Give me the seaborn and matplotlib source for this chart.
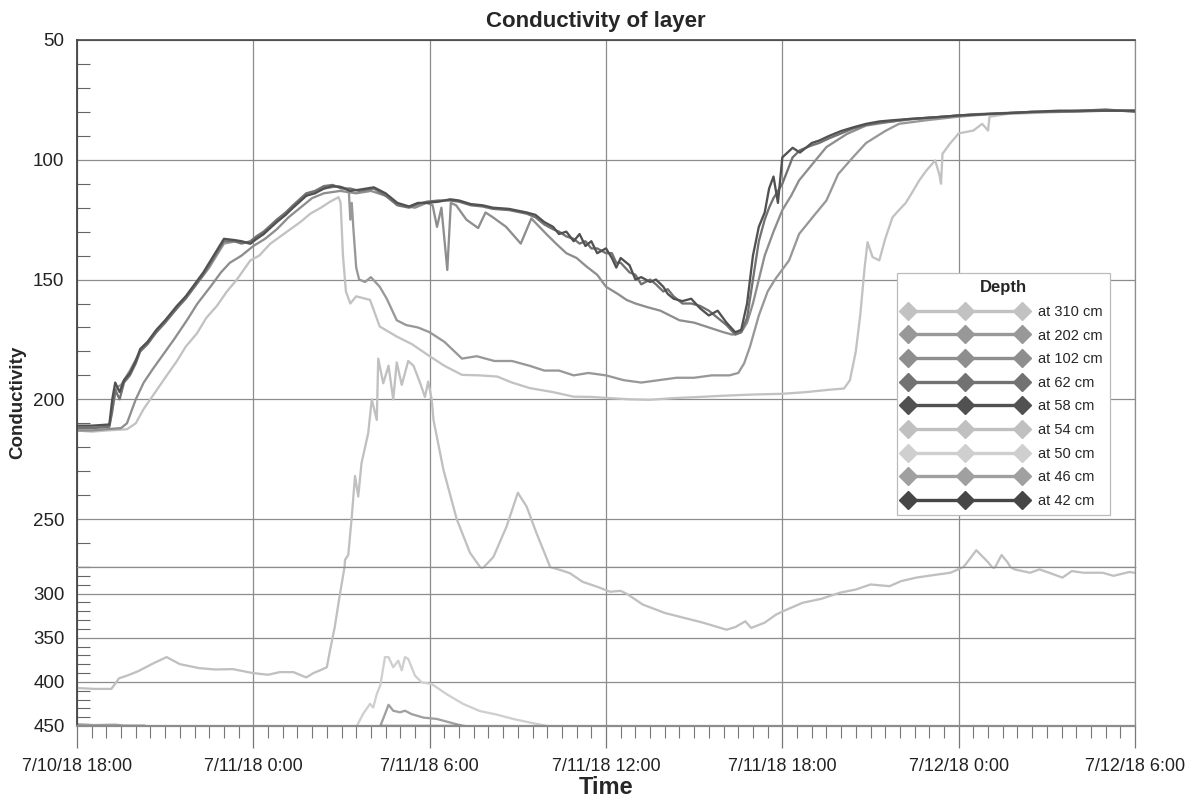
import numpy as np
import pandas as pd
import matplotlib
matplotlib.use("Agg")
import matplotlib.pyplot as plt
import matplotlib.dates as mdates
from matplotlib.ticker import MultipleLocator, FuncFormatter
from matplotlib.lines import Line2D
import seaborn as sns

# hours after 7/10/18 18:00 and conductivity
h58 = [0, 0.5, 1.1, 1.2, 1.3, 1.45, 1.6, 1.8, 2.0, 2.15,
       2.4, 2.7, 3.0, 3.4, 3.7, 4.0, 4.3, 4.55, 4.75, 5.0,
       5.35, 5.6, 5.9, 6.1, 6.35, 6.8, 7.1, 7.35, 7.8, 8.1,
       8.4, 8.7, 9.0, 9.3, 9.6, 10.1, 10.5, 10.9, 11.3, 11.6,
       11.9, 12.3, 12.7, 13.0, 13.4, 13.8, 14.15, 14.7, 15.3, 15.6,
       15.9, 16.2, 16.4, 16.65, 16.9, 17.1, 17.3, 17.5, 17.7, 18.0,
       18.2, 18.35, 18.5, 18.8, 19.0, 19.2, 19.5, 19.7, 19.95, 20.1,
       20.3, 20.6, 20.9, 21.2, 21.5, 21.8, 22.1, 22.4, 22.6, 22.8,
       23.0, 23.2, 23.4, 23.55, 23.7, 23.85, 24.0, 24.35, 24.6, 25.0,
       25.25, 25.6, 26.0, 26.4, 26.85, 27.3, 27.75, 28.3, 28.9, 29.5,
       30.0, 30.8, 31.7, 32.5, 33.4, 34.2, 35.0, 36.0]
v58 = [211, 211, 210.5, 200, 193, 197, 192, 189, 184, 179,
       176, 171, 167, 161, 157, 152, 147, 142, 138, 133,
       133.5, 134, 135, 133, 131, 126, 123, 120, 115, 114,
       112, 111, 111.5, 113, 112.5, 111.5, 114, 118, 119.5, 118,
       118, 117.5, 116.5, 117, 118.5, 119, 120, 120.5, 122, 123,
       126, 128, 131, 130, 134, 131, 136, 134, 139, 137,
       141, 145, 141, 144, 150, 149, 151, 150, 153, 156,
       158, 159, 158, 162, 165, 163, 168, 172, 171, 160,
       140, 128, 122, 112, 107, 118, 99, 95, 97, 93,
       92, 90, 88, 86.5, 85, 84, 83.5, 83, 82.5, 82,
       81.5, 81, 80.5, 80, 79.5, 79.5, 79.5, 79.5]
h62 = h58
v62 = [212, 212, 211.5, 205, 196, 200, 193, 190, 185, 180,
       177, 172, 168, 162, 158, 153, 148, 143, 139, 134,
       134, 135, 134, 132, 130, 125, 122, 119, 114, 113,
       111, 110.5, 112, 112, 113, 112, 115, 119, 120, 118.5,
       117.5, 117, 117, 117.5, 119, 119.5, 120.5, 121, 122.5, 124,
       127, 129, 130, 132, 133, 135, 134, 137, 137, 139,
       139, 143, 143, 147, 148, 152, 150, 152, 155, 154,
       157, 160, 160, 161, 163, 166, 169, 173, 172, 166,
       150, 134, 125, 120, 116, 113, 110, 99, 96, 94,
       93, 91, 89, 87, 85.5, 84.5, 84, 83, 82.5, 82,
       81.5, 81, 80.5, 80, 80, 79.5, 79, 80]
h202 = [0, 0.5, 1.1, 1.2, 1.35, 1.5, 1.8, 2.15, 2.7, 3.4,
        4.0, 4.5, 5.0, 5.4, 5.9, 6.35, 6.8, 7.35, 7.8, 8.4,
        8.9, 9.15, 9.25, 9.3, 9.35, 9.4, 9.5, 9.6, 9.8, 10.0,
        10.3, 10.54, 10.88, 11.2, 11.6, 12.0, 12.5, 13.1, 13.6, 14.2,
        14.8, 15.4, 15.9, 16.4, 16.9, 17.4, 18.0, 18.6, 19.2, 19.8,
        20.4, 21.0, 21.6, 22.2, 22.5, 22.7, 22.9, 23.2, 23.5, 23.75,
        24.23, 24.57, 25.03, 25.5, 25.9, 26.4, 26.85, 27.5, 27.97, 28.9,
        30.0, 31.0, 32.0, 33.0, 34.0, 35.0, 36.0]
v202 = [212, 212, 211, 204, 195, 194, 188, 180, 172, 162,
        153, 145, 135, 134, 135, 131, 125, 120, 115, 112,
        111, 112, 113, 125, 118, 128, 145, 150, 151, 149,
        153, 158, 167, 169, 170, 172, 176, 183, 182, 184,
        184, 186, 188, 188, 190, 189, 190, 192, 193, 192,
        191, 191, 190, 190, 189, 185, 178, 165, 155, 150,
        142, 131, 124, 117, 106, 99, 93, 88, 85, 83.5,
        82, 81, 80.5, 80, 80, 79.5, 79.5]
h102 = [0, 0.5, 1.0, 1.5, 1.7, 2.0, 2.27, 2.6, 2.95, 3.3,
        3.74, 4.1, 4.54, 4.9, 5.2, 5.6, 6.0, 6.4, 6.8, 7.2,
        7.7, 8.0, 8.4, 8.96, 9.5, 10.0, 10.5, 11.0, 11.5, 11.9,
        12.1, 12.25, 12.4, 12.6, 12.72, 12.9, 13.25, 13.65, 13.9, 14.15,
        14.6, 15.1, 15.46, 15.97, 16.3, 16.65, 17.0, 17.33, 17.7, 18.0,
        18.4, 18.7, 19.0, 19.4, 19.85, 20.5, 21.0, 21.5, 22.0, 22.3,
        22.6, 22.8, 23.0, 23.2, 23.4, 23.7, 24.0, 24.3, 24.57, 25.03,
        25.5, 26.2, 26.85, 27.75, 28.5, 29.5, 30.5, 31.5, 32.5, 33.5,
        34.5, 36.0]
v102 = [213, 213, 212.5, 212, 210, 200, 193, 187, 181, 175,
        167, 160, 153, 147, 143, 140, 136, 133, 129, 124,
        119, 116, 114, 113, 114, 113, 115, 119, 120, 118,
        119, 128, 120, 146, 118, 119, 125, 128.5, 122, 124,
        128, 135, 124.5, 131, 135, 139, 141, 144.5, 148, 153,
        156, 158.5, 160, 161.5, 163, 167, 168, 170, 172, 173,
        172, 168, 160, 150, 140, 130, 121, 115, 108.6, 101.7,
        94.7, 89.2, 85.7, 84, 83, 82, 81, 80.5, 80, 80,
        79.5, 79.5]
h310 = [0, 0.5, 1.0, 1.7, 2.0, 2.27, 2.72, 3.0, 3.4, 3.7,
        4.08, 4.4, 4.76, 5.1, 5.44, 5.9, 6.2, 6.58, 7.26, 7.6,
        7.94, 8.3, 8.6, 8.9, 8.97, 9.05, 9.15, 9.3, 9.5, 9.97,
        10.3, 10.88, 11.4, 12.0, 12.5, 13.1, 13.7, 14.3, 14.8, 15.4,
        16.2, 16.9, 17.5, 18.0, 18.8, 19.5, 20.3, 21.2, 22.0, 23.0,
        24.0, 24.8, 25.6, 26.1, 26.3, 26.5, 26.65, 26.8, 26.9, 27.07,
        27.3, 27.5, 27.75, 27.97, 28.2, 28.4, 28.66, 28.9, 29.2, 29.34,
        29.4, 29.45, 29.7, 30.0, 30.5, 30.8, 31.0, 31.05, 31.7, 32.5,
        33.5, 34.5, 36.0]
v310 = [213, 213.5, 213, 212.5, 210, 204, 196, 191, 184, 178,
        172.5, 166, 161, 155, 150, 142, 140, 135, 129, 126,
        122.5, 120, 117.6, 115.6, 118, 140, 155, 160, 157, 158.5,
        169.6, 173.8, 177, 182, 186, 189.8, 190, 190.5, 193, 195.3,
        197, 198.9, 199, 199.4, 200, 200.2, 199.5, 199, 198.5, 198,
        197.7, 197, 196, 195.5, 192, 180, 165, 145, 134.4, 140.6,
        142, 133, 124, 121, 118, 114, 108.6, 104.5, 100.3, 106,
        110, 97.5, 93.3, 89, 87.8, 85, 87.8, 82, 80.8, 80.5,
        80, 79.5, 79.5]
h54 = [0, 0.6, 1.17, 1.43, 1.7, 2.08, 2.6, 3.05, 3.5, 4.16,
       4.7, 5.3, 5.97, 6.5, 6.9, 7.36, 7.8, 8.05, 8.27, 8.5,
       8.6, 8.77, 8.95, 9.12, 9.23, 9.35, 9.46, 9.57, 9.68, 9.91,
       10.03, 10.2, 10.25, 10.42, 10.6, 10.76, 10.88, 11.05, 11.27, 11.45,
       11.67, 11.84, 11.95, 12.07, 12.13, 12.47, 12.92, 13.37, 13.77, 14.17,
       14.62, 15.0, 15.3, 15.64, 16.1, 16.5, 16.77, 17.2, 17.7, 18.14,
       18.5, 18.74, 19.25, 20.0, 20.67, 21.3, 21.7, 22.1, 22.4, 22.74,
       22.94, 23.4, 23.78, 24.03, 24.68, 25.33, 25.97, 26.5, 27.0, 27.65,
       28.04, 28.56, 29.07, 29.72, 30.23, 30.6, 31.0, 31.2, 31.46, 31.66,
       31.9, 32.43, 32.75, 33.08, 33.53, 33.85, 34.24, 34.9, 35.27, 35.8,
       36.0]
v54 = [407, 408, 408, 396, 393, 388, 379, 372, 380, 384.5,
       386, 385.6, 390, 392, 389, 389, 395, 390, 387, 383.5,
       366, 338, 300, 267, 265, 249, 232, 240.6, 226.7, 214,
       200, 208.6, 183, 193.3, 186, 200, 184.6, 194, 184, 186,
       193, 199, 192.6, 200, 208.6, 229.5, 250, 264, 271, 265.8,
       253, 239, 244.8, 256, 270, 274, 277, 286.7, 292.4, 298,
       297, 301, 312.5, 322, 327.7, 333, 337, 341, 338, 331.5,
       339, 333, 324, 320, 310.6, 306, 299, 295.5, 289.8, 291.7,
       286, 282, 279.5, 276.5, 269, 263, 268, 271, 265, 268,
       272.7, 276.5, 272.7, 276.5, 282, 274.6, 276.5, 276.5, 280, 275.7,
       276.5]
h50 = [9.52, 9.74, 9.97, 10.08, 10.2, 10.32, 10.48, 10.6, 10.76, 10.93,
       11.05, 11.16, 11.27, 11.5, 11.73, 12.07, 12.58, 13.14, 13.7, 14.27,
       14.84, 15.4, 16.0]
v50 = [450, 436, 425, 429, 413.8, 404, 372, 372, 383.5, 376,
       387, 372, 374, 393, 400.6, 402.5, 414, 425, 433, 437,
       442, 446, 450]
h46a = [0, 0.6, 1.3, 1.6, 2.3]
v46a = [448, 449, 448.5, 449.5, 449.5]
h46b = [10.32, 10.48, 10.6, 10.76, 10.99, 11.16, 11.39, 11.79, 12.24, 12.69, 13.14]
v46b = [450, 436.6, 426, 432.7, 434.5, 432.7, 436.6, 440.5, 442, 446, 450]
h42 = [10.3, 13.2]
v42 = [450, 450]

depths = ["at 310 cm", "at 202 cm", "at 102 cm", "at 62 cm", "at 58 cm",
          "at 54 cm", "at 50 cm", "at 46 cm", "at 42 cm"]
colors = ["#c2c2c2", "#989898", "#8e8e8e", "#727272", "#515151",
          "#c0c0c0", "#cfcfcf", "#a0a0a0", "#464646"]

series = [("at 310 cm", h310, v310), ("at 202 cm", h202, v202),
          ("at 102 cm", h102, v102), ("at 62 cm", h62, v62),
          ("at 58 cm", h58, v58), ("at 54 cm", h54, v54),
          ("at 50 cm", h50, v50), ("at 46 cm", h46a, v46a),
          ("at 46 cm", h46b, v46b), ("at 42 cm", h42, v42)]

start = pd.Timestamp("2018-07-10 18:00")
frames = []
for i, (name, hrs, vals) in enumerate(series):
    assert len(hrs) == len(vals), name
    frames.append(pd.DataFrame({
        "time": start + pd.to_timedelta(np.array(hrs), unit="h"),
        "value": vals, "depth": name, "seg": i}))
df = pd.concat(frames, ignore_index=True)

sns.set_style("white")
plt.rcParams["font.family"] = ["Liberation Sans", "DejaVu Sans"]

fig = plt.figure(figsize=(11.86, 7.98), dpi=100)
W, H = 1186, 798
x0, x1 = 77, 1135
ax_top = fig.add_axes([x0 / W, 1 - 567 / H, (x1 - x0) / W, 527 / H])
ax_bot = fig.add_axes([x0 / W, 1 - 726 / H, (x1 - x0) / W, 159 / H], sharex=ax_top)

pal = dict(zip(depths, colors))
for ax in (ax_top, ax_bot):
    sns.lineplot(data=df, x="time", y="value", hue="depth", hue_order=depths,
                 palette=pal, units="seg", estimator=None, sort=False,
                 lw=1.65, legend=False, ax=ax)
    ax.set_xlim(start, start + pd.Timedelta(hours=36))
    ax.xaxis.set_major_locator(mdates.HourLocator(byhour=[0, 6, 12, 18]))
    ax.xaxis.set_minor_locator(mdates.MinuteLocator(byminute=[0, 30]))
    ax.yaxis.set_major_locator(MultipleLocator(50))
    ax.yaxis.set_minor_locator(MultipleLocator(10))
    ax.grid(True, which="major", color="#8c8c8c", lw=0.9)
    ax.set_xlabel("")
    ax.set_ylabel("")
    ax.tick_params(axis="y", which="major", left=True, length=0, labelsize=13.5,
                   pad=9, labelcolor="#222222")
    ax.tick_params(axis="y", which="minor", left=True, direction="in", length=9,
                   color="#666666", width=0.8)
    for s in ("top", "right", "bottom"):
        ax.spines[s].set_color("#8c8c8c")
        ax.spines[s].set_linewidth(0.9)
    ax.spines["left"].set_color("#444444")
    ax.spines["left"].set_linewidth(1.3)

ax_top.set_ylim(270, 50)
ax_bot.set_ylim(450, 270)
ax_top.spines["top"].set_color("#444444")
ax_top.spines["top"].set_linewidth(1.2)
ax_bot.spines["bottom"].set_linewidth(1.6)
ax_top.tick_params(axis="x", which="both", bottom=False, labelbottom=False)
ax_bot.tick_params(axis="x", which="major", bottom=True, direction="out",
                   length=16, width=0.9, color="#777777", labelsize=13, pad=7,
                   labelcolor="#222222")
ax_bot.tick_params(axis="x", which="minor", bottom=True, direction="out",
                   length=8.5, width=0.8, color="#777777")
ax_bot.xaxis.set_major_formatter(FuncFormatter(
    lambda x, pos: (lambda d: f"{d.month}/{d.day}/{d:%y} {d.hour}:{d:%M}")(mdates.num2date(x))))

fig.text(0.502, 1 - 22 / H, "Conductivity of layer", ha="center", va="center",
         fontsize=16, fontweight="bold")
fig.text(606 / W, 1 - 787 / H, "Time", ha="center", va="center",
         fontsize=17, fontweight="bold")
fig.text(18 / W, 1 - 402 / H, "Conductivity", ha="center", va="center",
         rotation=90, fontsize=13.5, fontweight="bold")

handles = [Line2D([], [], color=c, lw=2.4, marker="D", markersize=9.5,
                  markeredgecolor=c) for c in colors]
leg = ax_top.legend(handles, depths, title="Depth", loc="upper right",
                    bbox_to_anchor=((1110 - x0) / (x1 - x0), 1 - (273 - 40) / 527),
                    numpoints=3, handlelength=8.4, fontsize=10.5,
                    labelspacing=0.66, borderpad=0.5, handletextpad=0.8,
                    fancybox=False, framealpha=1, edgecolor="#bbbbbb",
                    borderaxespad=0)
leg.get_title().set_fontweight("bold")
leg.get_title().set_fontsize(12)
leg.get_frame().set_linewidth(0.9)

fig.savefig("out.png", dpi=100)
